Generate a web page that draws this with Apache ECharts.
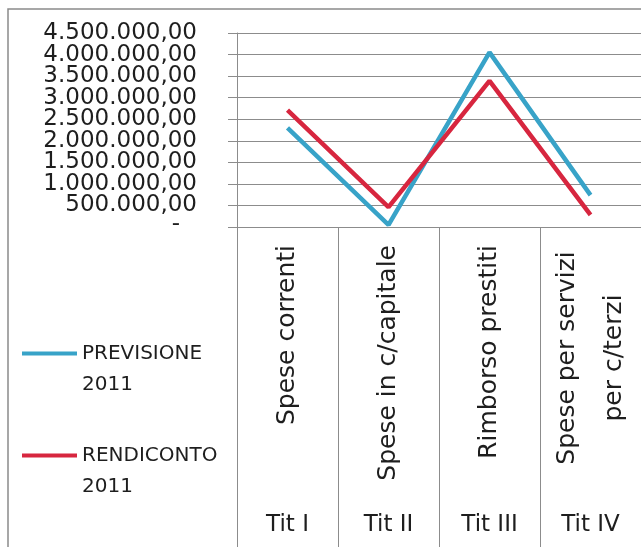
<!DOCTYPE html>
<html>
<head>
<meta charset="utf-8">
<script src="https://cdn.jsdelivr.net/npm/echarts@6/dist/echarts.min.js"></script>
<style>
  html, body { margin: 0; padding: 0; background: #fff; }
  #chart { width: 641px; height: 547px; }
</style>
</head>
<body>
<div id="chart"></div>
<script>
// Spese per titolo: previsione vs rendiconto 2011
const categories = ['Spese correnti', 'Spese in c/capitale', 'Rimborso prestiti', 'Spese per servizi\nper c/terzi'];
const titoli = ['Tit I', 'Tit II', 'Tit III', 'Tit IV'];
const seriesNames = ['PREVISIONE\n2011', 'RENDICONTO\n2011'];
const previsione = [2300000, 50000, 4050000, 740000];
const rendiconto = [2710000, 460000, 3390000, 280000];
const yMax = 4500000;
const yStep = 500000;
const yTickLabels = ['-', '500.000,00', '1.000.000,00', '1.500.000,00', '2.000.000,00',
  '2.500.000,00', '3.000.000,00', '3.500.000,00', '4.000.000,00', '4.500.000,00'];

const FONT = 'DejaVu Sans';
const GRID_COLOR = '#8c8c8c';
const TEXT_COLOR = '#1e1e1e';

// Lo zero in formato contabile: trattino rientrato rispetto ai decimali
function fmtTick(v) {
  return v === '-' ? '{z|-}' : v;
}

// Le etichette su due righe vengono centrate riga per riga
function fmtCategory(v) {
  if (v.indexOf('\n') < 0) return v;
  return v.split('\n').map(function (s) { return '{c|' + s + '}'; }).join('\n');
}

const chart = echarts.init(document.getElementById('chart'), null, { renderer: 'canvas' });

chart.setOption({
  backgroundColor: '#ffffff',
  animation: false,
  textStyle: { fontFamily: FONT },
  graphic: [{
    type: 'polyline',
    shape: { points: [[8, 547], [8, 9], [641, 9]] },
    style: { stroke: '#8a8a8a', lineWidth: 1.5, fill: null }
  }],
  legend: {
    orient: 'vertical',
    left: 17,
    top: 302,
    icon: 'rect',
    itemWidth: 55,
    itemHeight: 4,
    itemGap: 9,
    formatter: function (name) { return '\n' + name; },
    textStyle: {
      fontFamily: FONT,
      fontSize: 20,
      color: TEXT_COLOR,
      lineHeight: 31
    },
    data: seriesNames
  },
  grid: {
    left: 237,
    top: 33,
    width: 408,
    height: 194
  },
  xAxis: [{
    type: 'category',
    data: categories,
    boundaryGap: true,
    axisLine: { show: true, lineStyle: { color: GRID_COLOR, width: 1 } },
    axisTick: { show: true, interval: 0, length: 322, lineStyle: { color: GRID_COLOR, width: 1 } },
    axisLabel: {
      interval: 0,
      rotate: 90,
      margin: 18,
      fontFamily: FONT,
      fontSize: 25,
      lineHeight: 47,
      color: TEXT_COLOR,
      formatter: fmtCategory,
      rich: {
        c: { fontFamily: FONT, fontSize: 25, lineHeight: 47, color: TEXT_COLOR, width: 226, align: 'center' }
      }
    }
  }, {
    type: 'category',
    data: titoli,
    position: 'bottom',
    gridIndex: 0,
    axisLine: { show: false },
    axisTick: { show: false },
    axisLabel: {
      interval: 0,
      margin: 287,
      fontFamily: FONT,
      fontSize: 23,
      color: TEXT_COLOR
    }
  }],
  yAxis: [{
    type: 'value',
    min: 0,
    max: yMax,
    interval: yStep,
    axisLine: { show: true, lineStyle: { color: GRID_COLOR, width: 1 } },
    axisTick: { show: true, length: 9, lineStyle: { color: GRID_COLOR, width: 1 } },
    splitLine: { show: true, lineStyle: { color: GRID_COLOR, width: 1 } },
    axisLabel: { show: false }
  }, {
    // scala delle etichette: una per ogni linea della griglia
    type: 'category',
    data: yTickLabels,
    position: 'left',
    boundaryGap: false,
    axisLine: { show: false },
    axisTick: { show: false },
    splitLine: { show: false },
    axisLabel: {
      interval: 0,
      margin: 40,
      fontFamily: FONT,
      fontSize: 23,
      color: TEXT_COLOR,
      formatter: fmtTick,
      rich: {
        z: { fontFamily: FONT, fontSize: 23, color: TEXT_COLOR, padding: [0, 17, 6, 0] }
      }
    }
  }],
  series: [{
    name: seriesNames[0],
    type: 'line',
    data: previsione,
    showSymbol: false,
    symbol: 'none',
    lineStyle: { color: '#38a3c8', width: 4.5 },
    itemStyle: { color: '#38a3c8' }
  }, {
    name: seriesNames[1],
    type: 'line',
    data: rendiconto,
    showSymbol: false,
    symbol: 'none',
    lineStyle: { color: '#d7263f', width: 4.5 },
    itemStyle: { color: '#d7263f' }
  }]
});
</script>
</body>
</html>
